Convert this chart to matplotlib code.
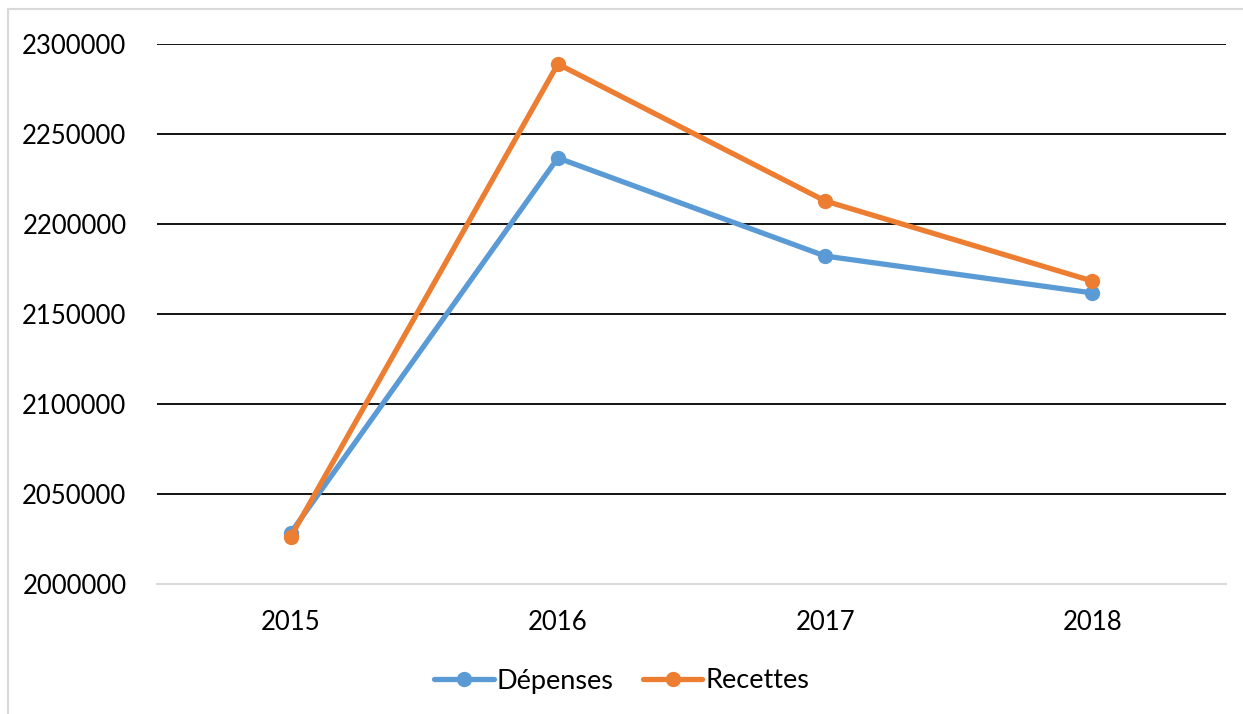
import matplotlib.pyplot as plt
from matplotlib.patches import Rectangle

years = ["2015", "2016", "2017", "2018"]
depenses = [2028300, 2236700, 2182200, 2161700]
recettes = [2026100, 2288900, 2212800, 2168300]
yticks = [2000000, 2050000, 2100000, 2150000, 2200000, 2250000, 2300000]

plt.rcParams['font.family'] = ['Lato', 'DejaVu Sans']

W, H = 1243, 714
fig = plt.figure(figsize=(W / 100, H / 100), dpi=100)
ax = fig.add_axes([157 / W, 1 - 584 / H, (1226 - 157) / W, (584 - 44) / H])

# outer chart frame
fig.patches.append(Rectangle((8 / W, -0.02), 1.1, 1 - 9 / H + 0.02, transform=fig.transFigure,
                             fill=False, edgecolor="#d9d9d9", linewidth=1.5))

x = [i + 0.5 for i in range(len(years))]
ax.plot(x, depenses, color="#5B9BD5", lw=3.8, marker="o", ms=10, label="Dépenses",
        solid_capstyle="round", zorder=3)
ax.plot(x, recettes, color="#ED7D31", lw=3.8, marker="o", ms=10, label="Recettes",
        solid_capstyle="round", zorder=4)

ax.set_xlim(0, 4)
ax.set_ylim(2000000, 2300000)
ax.set_yticks(yticks)
ax.set_yticklabels([str(v) for v in yticks])
ax.set_xticks(x)
ax.set_xticklabels(years)
for v in yticks[1:]:
    ax.axhline(v, color="black", lw=1.3, zorder=1)
for s in ["top", "right", "left"]:
    ax.spines[s].set_visible(False)
ax.spines["bottom"].set_color("#d9d9d9")
ax.spines["bottom"].set_linewidth(1.5)
ax.tick_params(axis="both", length=0, labelsize=18.5)
ax.tick_params(axis="y", pad=22)
ax.tick_params(axis="x", pad=19)

fig.legend(loc="center", bbox_to_anchor=(0.5, 1 - 681 / H), ncol=2, frameon=False,
           fontsize=19.5, handlelength=2.2, columnspacing=1.1, handletextpad=0.1)

fig.savefig("out.png", dpi=100)
